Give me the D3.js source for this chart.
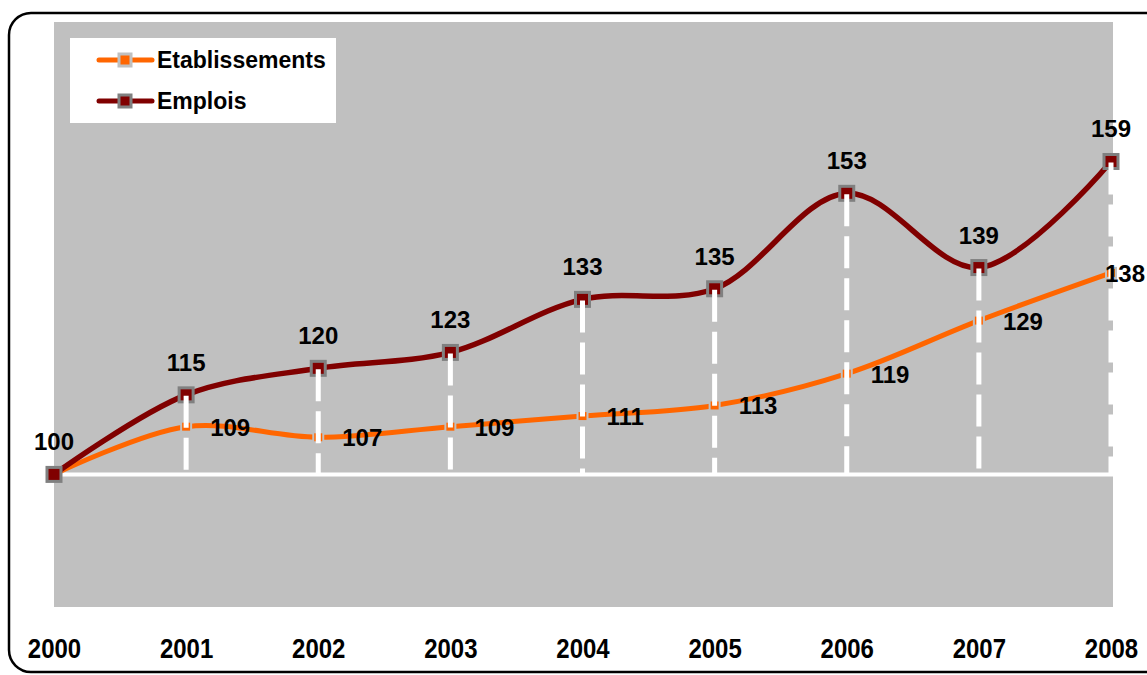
<!DOCTYPE html>
<html>
<head>
<meta charset="utf-8">
<script src="https://cdn.jsdelivr.net/npm/d3@7"></script>
<style>
  body { margin: 0; background: #fff; }
  text { font-family: "Liberation Sans", Arial, sans-serif; font-weight: bold; }
</style>
</head>
<body>
<div id="chart"></div>
<script>
const years = ["2000", "2001", "2002", "2003", "2004", "2005", "2006", "2007", "2008"];
const etablissements = [100, 109, 107, 109, 111, 113, 119, 129, 138];
const emplois = [100, 115, 120, 123, 133, 135, 153, 139, 159];
const seriesNames = ["Etablissements", "Emplois"];

const width = 1147;
const height = 675;
const plotLeft = 54;
const plotRight = 1113;
const plotTop = 22;
const plotBottom = 607;

const svg = (
    d3.select("#chart")
    .append("svg")
    .attr("width", width)
    .attr("height", height)
);

// outer frame, runs off the right edge like the original
svg.append("rect")
    .attr("x", 9).attr("y", 13)
    .attr("width", 1160).attr("height", 659)
    .attr("rx", 22).attr("ry", 22)
    .attr("fill", "#fff")
    .attr("stroke", "#000")
    .attr("stroke-width", 2.5);

svg.append("rect")
    .attr("x", plotLeft).attr("y", plotTop)
    .attr("width", plotRight - plotLeft).attr("height", plotBottom - plotTop)
    .attr("fill", "#c0c0c0");

const xScale = d3.scalePoint().domain(years).range([54, 1111]);
const yScale = d3.scaleLinear().domain([75, 185.3]).range([plotBottom, plotTop]);

// year labels along the bottom (slightly stretched vertically, as in the original)
const xAxis = d3.axisBottom(xScale).tickSize(0).tickPadding(0);
const xg = (
    svg.append("g")
    .attr("transform", `translate(0, 658)`)
    .call(xAxis)
);
xg.select(".domain").remove();
xg.selectAll("text")
    .attr("dy", 0)
    .attr("y", 0)
    .attr("transform", "scale(1, 1.17)")
    .attr("font-size", 24)
    .attr("font-family", "Liberation Sans, Arial, sans-serif")
    .attr("font-weight", "bold")
    .attr("fill", "#000");

// base line at 100
svg.append("line")
    .attr("x1", plotLeft).attr("x2", plotRight)
    .attr("y1", yScale(100)).attr("y2", yScale(100))
    .attr("stroke", "#fff")
    .attr("stroke-width", 4);

const line = (
    d3.line()
    .x((d, i) => xScale(years[i]))
    .y((d) => yScale(d))
    .curve(d3.curveCatmullRom.alpha(0.5))
);

svg.append("path")
    .datum(etablissements)
    .attr("d", line)
    .attr("fill", "none")
    .attr("stroke", "#ff6600")
    .attr("stroke-width", 5);

svg.append("path")
    .datum(emplois)
    .attr("d", line)
    .attr("fill", "none")
    .attr("stroke", "#800000")
    .attr("stroke-width", 5.5);

for (let i = 0; i < years.length; ++i) {
    const x = xScale(years[i]);
    svg.append("rect")
        .attr("x", x - 5).attr("y", yScale(etablissements[i]) - 5)
        .attr("width", 10).attr("height", 10)
        .attr("fill", "#ff6600")
        .attr("stroke", "#c0c0c0")
        .attr("stroke-width", 2);
    svg.append("rect")
        .attr("x", x - 7).attr("y", yScale(emplois[i]) - 7)
        .attr("width", 14).attr("height", 14)
        .attr("fill", "#800000")
        .attr("stroke", "#808080")
        .attr("stroke-width", 3);
}

// dashed drop lines from Emplois points to the 100 line
for (let i = 1; i < years.length; ++i) {
    const x = xScale(years[i]);
    svg.append("line")
        .attr("x1", x).attr("x2", x)
        .attr("y1", yScale(emplois[i]) + 1).attr("y2", yScale(100))
        .attr("stroke", "#fff")
        .attr("stroke-width", 5)
        .attr("stroke-dasharray", "32 10");
}

// value labels
for (let i = 0; i < years.length; ++i) {
    const x = xScale(years[i]);
    svg.append("text")
        .attr("x", x).attr("y", yScale(emplois[i]) - 24)
        .attr("text-anchor", "middle")
        .attr("font-size", 24)
        .text(emplois[i]);
    if (i > 0) {
        // last one pulled in so it stays inside the page
        const dx = i === years.length - 1 ? -6 : 24;
        svg.append("text")
            .attr("x", x + dx).attr("y", yScale(etablissements[i]) + 9)
            .attr("font-size", 24)
            .text(etablissements[i]);
    }
}

// legend
const legend = svg.append("g");
legend.append("rect")
    .attr("x", 70).attr("y", 38)
    .attr("width", 266).attr("height", 85)
    .attr("fill", "#fff");
const legendColors = ["#ff6600", "#800000"];
const legendBorders = ["#c0c0c0", "#808080"];
seriesNames.forEach((name, i) => {
    const y = 60 + i * 41;
    legend.append("line")
        .attr("x1", 99).attr("x2", 152)
        .attr("y1", y).attr("y2", y)
        .attr("stroke", legendColors[i])
        .attr("stroke-width", 5)
        .attr("stroke-linecap", "round");
    legend.append("rect")
        .attr("x", 119).attr("y", y - 6)
        .attr("width", 12).attr("height", 12)
        .attr("fill", legendColors[i])
        .attr("stroke", legendBorders[i])
        .attr("stroke-width", 3);
    legend.append("text")
        .attr("x", 157).attr("y", y + 8)
        .attr("font-size", 23)
        .text(name);
});
</script>
</body>
</html>
